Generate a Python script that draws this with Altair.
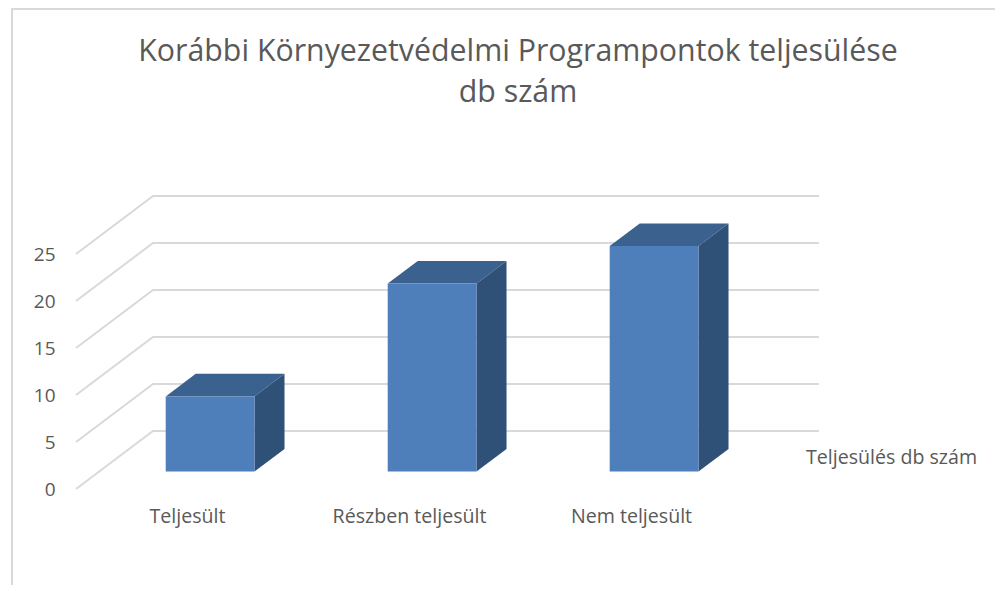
import altair as alt
import pandas as pd

categories = ["Teljesült", "Részben teljesült", "Nem teljesült"]
values = [8, 20, 24]
grid_levels = [0, 5, 10, 15, 20, 25]
series_name = "Teljesülés db szám"
title_lines = ["Korábbi Környezetvédelmi Programpontok teljesülése", "db szám"]

# oblique projection of the chart's depth axis, in data units
W, H = 987, 577
PX_X, PX_Y = 222.0, 9.4
DEPTH_X = 77 / PX_X
DEPTH_Y = 58 / PX_Y
BAR_FRONT, BAR_BACK = 0.30, 0.69
HALF = 0.2

X0 = 187 - 8
Y0 = 489 - 8
x_scale = alt.Scale(domain=[-X0 / PX_X, (W - X0) / PX_X], range=[0, W], nice=False, zero=False)
y_scale = alt.Scale(domain=[(Y0 - H) / PX_Y, Y0 / PX_Y], range=[H, 0], nice=False, zero=False)

FONT = "Open Sans"
TEXT = "#595959"
GRID = "#D9D9D9"

grid_rows = []
for v in grid_levels:
    grid_rows += [
        {"level": v, "o": 0, "x": -0.5, "y": v},
        {"level": v, "o": 1, "x": -0.5 + DEPTH_X, "y": v + DEPTH_Y},
        {"level": v, "o": 2, "x": 2.5 + DEPTH_X, "y": v + DEPTH_Y},
    ]
grid_df = pd.DataFrame(grid_rows)

front_rows, side_rows, top_rows = [], [], []
for i, (c, v) in enumerate(zip(categories, values)):
    dxf, dyf = BAR_FRONT * DEPTH_X, BAR_FRONT * DEPTH_Y
    dxb, dyb = BAR_BACK * DEPTH_X, BAR_BACK * DEPTH_Y
    front_rows.append({"c": c, "x": i - HALF + dxf, "x2": i + HALF + dxf, "y": dyf, "y2": v + dyf})
    for dx, dy in ((dxf, dyf), (dxb, dyb)):
        side_rows.append({"c": c, "x": i + HALF + dx, "y": dy, "y2": v + dy})
        top_rows.append({"c": c, "x": i - HALF + dx, "x2": i + HALF + dx, "y": v + dy})
front_df = pd.DataFrame(front_rows)
side_df = pd.DataFrame(side_rows)
top_df = pd.DataFrame(top_rows)

label_expr = "[" + ",".join(f"'{c}'" for c in categories) + "][datum.value]"

x_axis = alt.Axis(
    values=[0, 1, 2], labelExpr=label_expr, title=None, domain=False, ticks=False, grid=False,
    labelFont=FONT, labelFontSize=19.6, labelColor=TEXT, labelPadding=0, labelOverlap=False,
    labelFlush=False, offset=-(585 - 507), orient="bottom",
)
y_axis = alt.Axis(
    values=grid_levels, title=None, domain=False, ticks=False, grid=False,
    labelFont=FONT, labelFontSize=19, labelColor=TEXT, labelPadding=0,
    offset=-(55 - 8), orient="left",
)

X = alt.X("x:Q", scale=x_scale, axis=x_axis)
Y = alt.Y("y:Q", scale=y_scale, axis=y_axis)

grid = alt.Chart(grid_df).mark_line(color=GRID, strokeWidth=2, interpolate="linear").encode(
    x=X, y=Y, detail="level:N", order="o:Q"
)
side = alt.Chart(side_df).mark_area(color="#2F5178", orient="vertical").encode(
    x=X, y=Y, y2="y2:Q", detail="c:N"
)
top = alt.Chart(top_df).mark_area(color="#3B628F", orient="horizontal").encode(
    y=Y, x=X, x2="x2:Q", detail="c:N"
)
front = alt.Chart(front_df).mark_rect(color="#4E7FBB").encode(
    x=X, x2="x2:Q", y=Y, y2="y2:Q"
)
series = alt.Chart(pd.DataFrame({"t": [series_name], "x": [2.5 + 64 / PX_X], "y": [(489 - 458) / PX_Y]})).mark_text(
    font=FONT, fontSize=19.6, color=TEXT, align="left", baseline="middle"
).encode(x=X, y=Y, text="t:N")

border_left = alt.Chart(pd.DataFrame({"a": [0]})).mark_rule(color=GRID, strokeWidth=2).encode(
    x=alt.value(4), y=alt.value(0), y2=alt.value(H)
)
border_top = alt.Chart(pd.DataFrame({"a": [0]})).mark_rule(color=GRID, strokeWidth=2).encode(
    x=alt.value(4), x2=alt.value(W), y=alt.value(1)
)

chart = alt.layer(border_left, border_top, grid, top, side, front, series).properties(
    width=W, height=H, padding=0,
    autosize=alt.AutoSizeParams(type="none"),
    title=alt.Title(
        text=title_lines, font=FONT, fontSize=30.3, fontWeight="normal", color=TEXT,
        anchor="middle", lineHeight=41, dx=16.5, dy=135.5, baseline="bottom",
    ),
).configure_view(stroke=None)

chart.save("out.html", embed_options={"renderer": "svg", "actions": False})
